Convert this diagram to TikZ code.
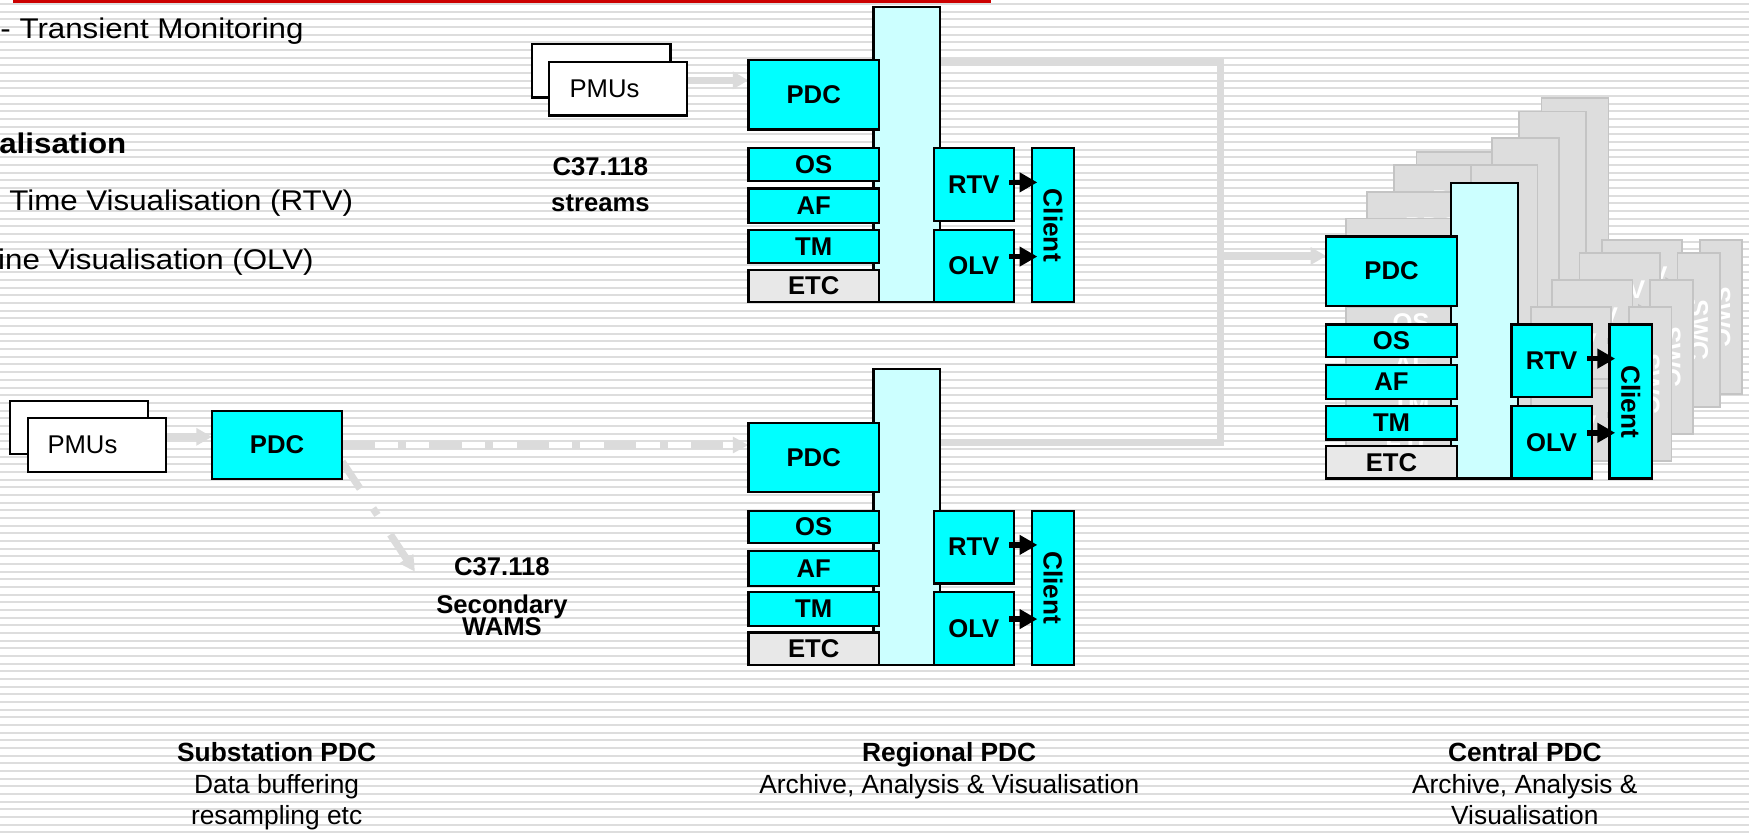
\documentclass[tikz,border=0pt]{standalone}
\usepackage{fontspec}
\setmainfont{Liberation Sans}
\newfontfamily\widefont{Liberation Sans}[FakeStretch=1.1]
\usetikzlibrary{arrows.meta,calc}
\definecolor{stripe}{RGB}{221,221,221}
\definecolor{conn}{RGB}{219,219,219}
\definecolor{cyanbox}{RGB}{0,255,255}
\definecolor{barfill}{RGB}{204,255,255}
\definecolor{etcfill}{RGB}{232,232,232}
\definecolor{ghostfill}{RGB}{221,221,221}
\definecolor{ghostline}{RGB}{196,196,196}
\definecolor{redline}{RGB}{204,0,0}
\pgfdeclarelayer{background}
\pgfsetlayers{background,main}
\newcommand\boxfont{\bfseries\fontsize{11.5}{13}\selectfont}
\newcommand\midfont{\fontsize{11.8}{14}\selectfont}
\tikzset{
  ubox/.style={inner sep=0pt, outer sep=0pt, anchor=north west, font=\boxfont},
  front/.style={
    ubar/.style={draw=black, line width=1pt, fill=barfill},
    ucyan/.style={draw=black, line width=1pt, fill=cyanbox, text=black},
    uetc/.style={draw=black, line width=1pt, fill=etcfill, text=black},
    ulab/.style={text=black},
    uarrow/.style={draw=black, line width=2.5pt, -{Triangle[length=8pt,width=8.5pt]}}},
  ghost/.style={
    ubar/.style={draw=ghostline, line width=0.75pt, fill=ghostfill},
    ucyan/.style={draw=ghostline, line width=0.75pt, fill=ghostfill, text=white},
    uetc/.style={draw=ghostline, line width=0.75pt, fill=ghostfill, text=white},
    ulab/.style={text=white},
    uarrow/.style={draw=ghostline, line width=2.5pt, -{Triangle[length=8pt,width=8.5pt]}}},
  pmubox/.style={draw=black, line width=1pt, fill=white, inner sep=0pt, outer sep=0pt, anchor=north west},
  pmutext/.style={inner sep=0pt, font=\fontsize{11.5}{13}\selectfont},
  lefttext/.style={inner sep=0pt, anchor=base west, font=\widefont\fontsize{12.75}{15}\selectfont},
  lbl/.style={inner sep=0pt, anchor=base, font=\bfseries\fontsize{11.5}{13}\selectfont},
  capb/.style={inner sep=0pt, anchor=base, font=\bfseries\midfont},
  capr/.style={inner sep=0pt, anchor=base, font=\midfont},
  gline/.style={draw=conn, line width=3.25pt},
  garrow/.style={draw=conn, line width=3.25pt, -{Triangle[length=7pt,width=7.5pt]}},
  gdash/.style={draw=conn, line width=3.25pt, dash pattern=on 14.5pt off 10.5pt on 3.6pt off 10.5pt, -{Triangle[length=7pt,width=7pt]}}
}
\newcommand\pdcunit[5]{%
\begin{scope}[#5]
\node[ubox,ubar,minimum width=30pt,minimum height=132.5pt] (#1bar) at ({#2+112},{#3-48}) {};
\node[ubox,ucyan,minimum width=58.5pt,minimum height=31pt] (#1pdc) at (#2,#3) {PDC};
\node[ubox,ucyan,minimum width=58.5pt,minimum height=14.5pt] (#1os) at (#2,{#3+79}) {OS};
\node[ubox,ucyan,minimum width=58.5pt,minimum height=15.5pt] (#1af) at (#2,{#3+115}) {AF};
\node[ubox,ucyan,minimum width=58.5pt,minimum height=15pt] (#1tm) at (#2,{#3+152}) {TM};
\node[ubox,uetc,minimum width=58.5pt,minimum height=14.5pt] (#1etc) at (#2,{#3+188}) {ETC};
\node[ubox,ucyan,minimum width=36pt,minimum height=32.5pt] (#1rtv) at ({#2+166},{#3+79}) {RTV};
\node[ubox,ucyan,minimum width=36pt,minimum height=32.5pt] (#1olv) at ({#2+166},{#3+152}) {OLV};
\node[ubox,ucyan,minimum width=19pt,minimum height=69pt] (#1cli) at ({#2+254},{#3+79}) {};
\node[ulab,rotate=-90,inner sep=0pt,font=\bfseries\fontsize{11.75}{13}\selectfont] (#1clitxt) at (#1cli.center) {#4};
\draw[uarrow] ($(#1rtv.east)+(-2pt,1pt)$) -- ($(#1cli.west |- #1rtv.east)+(2.5pt,1pt)$);
\draw[uarrow] ($(#1olv.east)+(-2pt,4.25pt)$) -- ($(#1cli.west |- #1olv.east)+(2.5pt,4.25pt)$);
\end{scope}}
\begin{document}
\begin{tikzpicture}[x=0.5pt,y=-0.5pt]
\useasboundingbox (0,0) rectangle (1568,746);
\clip (0,0) rectangle (1568,746);
\begin{pgfonlayer}{background}
\fill[white] (0,0) rectangle (1568,746);
\foreach \k in {0,...,108}{\fill[stripe] (0,{3.59+6.876*\k-0.9}) rectangle (1568,{3.59+6.876*\k+0.9});}
\end{pgfonlayer}
\fill[redline] (12,0) rectangle (888,3);

% left slide text
\node[lefttext] (t1) at (0,34.5) {- Transient Monitoring};
\node[lefttext,font=\widefont\bfseries\fontsize{12.75}{15}\selectfont] (t2) at (-1,138) {alisation};
\node[lefttext] (t3) at (8,189) {Time Visualisation (RTV)};
\node[lefttext] (t4) at (-2,242) {ine Visualisation (OLV)};

% upper PMUs
\node[pmubox,minimum width=62.1pt,minimum height=23.9pt] (pmuAback) at (476.8,39.5) {};
\node[pmutext] (pmuAbacktxt) at ($(pmuAback.center)+(-6pt,0)$) {PMUs};
\node[pmubox,minimum width=61.75pt,minimum height=24pt] (pmuA) at (492.2,55.6) {};
\node[pmutext] (pmuAtxt) at ($(pmuA.center)+(-6pt,0)$) {PMUs};

% lower PMUs
\node[pmubox,minimum width=61.9pt,minimum height=23.9pt] (pmuBback) at (8.7,359.2) {};
\node[pmutext] (pmuBbacktxt) at ($(pmuBback.center)+(-6.4pt,0)$) {PMUs};
\node[pmubox,minimum width=61.9pt,minimum height=24pt] (pmuB) at (24.8,375) {};
\node[pmutext] (pmuBtxt) at ($(pmuB.center)+(-6.4pt,0)$) {PMUs};

% substation PDC
\node[ubox,draw=black,line width=1pt,fill=cyanbox,minimum width=58.4pt,minimum height=30.45pt] (spdc) at (190,368.5) {PDC};

% regional PDCs
\pdcunit{rA}{671}{54}{Client}{front}
\pdcunit{rB}{671}{379}{Client}{front}

% central PDC with stacked copies
\pdcunit{gd}{1270}{136}{SWC}{ghost}
\pdcunit{gc}{1250}{148}{SWC}{ghost}
\pdcunit{gb}{1225.5}{172}{SWC}{ghost}
\pdcunit{ga}{1206.5}{196}{SWC}{ghost}
\pdcunit{c}{1189}{212}{Client}{front}

% labels
\node[lbl] (c37a) at (538.3,157.5) {C37.118};
\node[lbl] (streams) at (538.3,189.8) {streams};
\node[lbl] (c37b) at (450,515.5) {C37.118};
\node[lbl] (secondary) at (450,550) {Secondary};
\node[lbl] (wams) at (450,569.5) {WAMS};

\node[capb] (capS1) at (248,683) {Substation PDC};
\node[capr] (capS2) at (248,711) {Data buffering};
\node[capr] (capS3) at (248,739) {resampling etc};
\node[capb] (capR1) at (851,683) {Regional PDC};
\node[capr] (capR2) at (851,711) {Archive, Analysis \& Visualisation};
\node[capb] (capC1) at (1367,683) {Central PDC};
\node[capr] (capC2) at (1367,711) {Archive, Analysis \&};
\node[capr] (capC3) at (1367,739) {Visualisation};

% connectors
\coordinate (jTop) at (1094,55.5);
\coordinate (jBot) at (1094,397);
\coordinate (jMid) at (1094,229.5);
\coordinate (wamsTip) at (372,512.5);
\begin{pgfonlayer}{background}
\draw[garrow] ($(pmuA.east)+(0,3.8pt)$) -- ($(pmuA.east -| rApdc.west)+(0,3.8pt)$);
\draw[garrow] ($(pmuB.east)+(0,3.7pt)$) -- ($(pmuB.east -| spdc.west)+(0,3.7pt)$);
\draw[gdash] (spdc.east) -- (spdc.east -| rBpdc.west);
\draw[gdash] ($(spdc.east)+(0,-7.5pt)$) -- (wamsTip);
\draw[gline] (rAbar.east |- jTop) -- (jTop) -- (jBot) -- (rBbar.east |- jBot);
\draw[garrow] (jMid) -- (jMid -| cpdc.west);
\end{pgfonlayer}
\end{tikzpicture}
\end{document}
